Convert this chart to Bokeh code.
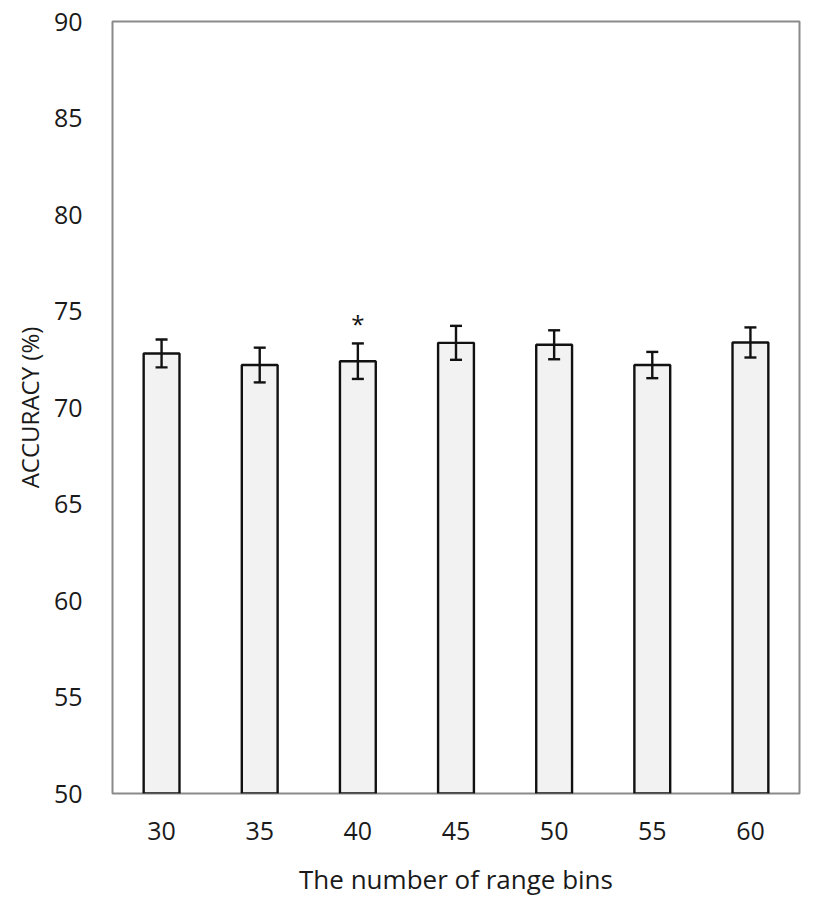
from bokeh.plotting import figure
from bokeh.models import ColumnDataSource, Whisker, TeeHead, Range1d, FixedTicker
from bokeh.core.properties import value
from bokeh.embed import file_html
from bokeh.resources import INLINE

bins = ["30", "35", "40", "45", "50", "55", "60"]
accuracy = [72.8, 72.2, 72.4, 73.35, 73.25, 72.2, 73.37]
errors = [0.72, 0.9, 0.92, 0.88, 0.75, 0.68, 0.78]
marks = ["", "", "*", "", "", "", ""]
y_ticks = [50, 55, 60, 65, 70, 75, 80, 85, 90]

upper = [a + e for a, e in zip(accuracy, errors)]
lower = [a - e for a, e in zip(accuracy, errors)]
mark_y = [u + 1.02 for u in upper]

src = ColumnDataSource(dict(x=bins, top=accuracy, upper=upper, lower=lower,
                            mark=marks, mark_y=mark_y))

p = figure(x_range=bins, y_range=Range1d(50, 90), width=814, height=901,
           output_backend="svg", toolbar_location=None,
           min_border_left=112, min_border_right=15, min_border_top=21,
           min_border_bottom=108)

p.vbar(x="x", top="top", bottom=50, width=0.365, source=src,
       fill_color="#f2f2f2", line_color="#111111", line_width=2.4)

w = Whisker(source=src, base="x", upper="upper", lower="lower",
            line_color="#111111", line_width=2.4, level="overlay",
            upper_head=TeeHead(size=12, line_color="#111111", line_width=2.4),
            lower_head=TeeHead(size=12, line_color="#111111", line_width=2.4))
p.add_layout(w)

p.text(x="x", y="mark_y", text="mark", source=src, text_align="center",
       text_baseline="middle", text_font=value("Open Sans"),
       text_font_size="24px", text_color="#111111")

p.xgrid.visible = False
p.ygrid.visible = False
p.outline_line_color = "#8a8a8a"
p.outline_line_width = 2

xa = p.xaxis[0]
ya = p.yaxis[0]
ya.ticker = FixedTicker(ticks=y_ticks)
for ax in (xa, ya):
    ax.axis_line_color = None
    ax.major_tick_line_color = None
    ax.minor_tick_line_color = None
    ax.major_label_text_font = "Open Sans"
    ax.major_label_text_font_size = "25px"
    ax.major_label_text_color = "#1a1a1a"
    ax.axis_label_text_font = "Open Sans"
    ax.axis_label_text_font_style = "normal"
    ax.axis_label_text_color = "#1a1a1a"

ya.major_label_standoff = 24
ya.axis_label = "ACCURACY (%)"
ya.axis_label_text_font_size = "24px"
ya.axis_label_standoff = 5

xa.major_label_standoff = 22
xa.axis_label = "The number of range bins"
xa.axis_label_text_font_size = "26px"
xa.axis_label_standoff = 18

open("out.html", "w").write(file_html(p, INLINE))
